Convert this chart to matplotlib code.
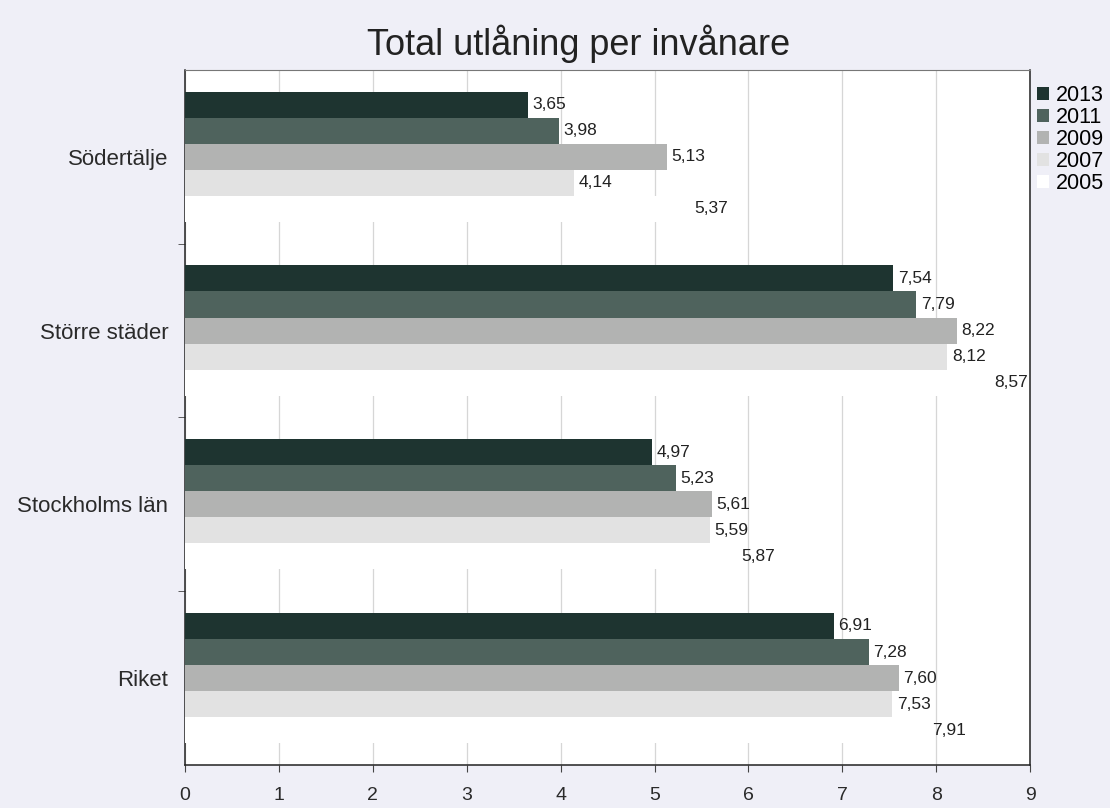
import numpy as np
import matplotlib
matplotlib.use("Agg")
import matplotlib.pyplot as plt
from matplotlib.patches import Patch

plt.rcParams['font.family'] = ['Liberation Sans', 'DejaVu Sans']

# Data
categories = ['Södertälje', 'Större städer', 'Stockholms län', 'Riket']
years = ['2013', '2011', '2009', '2007', '2005']
values_2013 = [3.65, 7.54, 4.97, 6.91]
values_2011 = [3.98, 7.79, 5.23, 7.28]
values_2009 = [5.13, 8.22, 5.61, 7.60]
values_2007 = [4.14, 8.12, 5.59, 7.53]
values_2005 = [5.37, 8.57, 5.87, 7.91]
series = [values_2013, values_2011, values_2009, values_2007, values_2005]
colors = ['#1e3430', '#4f635d', '#b2b3b2', '#e2e2e2', '#ffffff']
x_ticks = list(range(0, 10))

fig = plt.figure(figsize=(11.1, 8.08), dpi=100)
fig.patch.set_facecolor('#efeff7')
ax = fig.add_axes([0.1667, 0.0533, 0.928 - 0.1667, 0.9134 - 0.0533])
ax.set_facecolor('white')

bar_h = 0.15
group_pos = np.arange(len(categories))
offset0 = -2 * bar_h
for i, (vals, col) in enumerate(zip(series, colors)):
    y = group_pos + offset0 + i * bar_h
    ax.barh(y, vals, height=bar_h, color=col, edgecolor='none', zorder=3)
    for yy, v in zip(y, vals):
        ax.text(v + 0.05, yy, f'{v:.2f}'.replace('.', ','), va='center', ha='left',
                fontsize=12.5, color='#222222', zorder=4)

ax.set_xlim(0, 9)
ax.set_ylim(3.5, -0.5)
ax.set_xticks(x_ticks)
ax.set_xticklabels([str(t) for t in x_ticks], fontsize=14, color='#2a2a2a')
ax.tick_params(axis='x', length=5, pad=11, color='#444444')
ax.set_yticks(group_pos)
ax.set_yticklabels(categories, fontsize=16, color='#2a2a2a')
ax.tick_params(axis='y', length=0, pad=12)
ax.set_yticks([0.5, 1.5, 2.5], minor=True)
ax.tick_params(axis='y', which='minor', length=5, color='#444444')

ax.grid(axis='x', color='#d6d6d6', linewidth=0.9, zorder=0)
ax.set_axisbelow(True)
for side in ['left', 'bottom', 'right']:
    ax.spines[side].set_color('#222222')
    ax.spines[side].set_linewidth(1.1)
ax.spines['top'].set_color('#777777')
ax.spines['top'].set_linewidth(0.8)

fig.text(0.521, 0.946, 'Total utlåning per invånare', ha='center', va='center',
         fontsize=26, color='#222222')

handles = [Patch(facecolor=c, edgecolor='none') for c in colors]
fig.legend(handles, years, loc='upper left', bbox_to_anchor=(0.934, 0.895),
           frameon=False, fontsize=15.5, handlelength=0.55, handleheight=0.55,
           handletextpad=0.35, labelspacing=0.05, borderpad=0, borderaxespad=0)

fig.savefig('out.png', dpi=100, facecolor=fig.get_facecolor())
